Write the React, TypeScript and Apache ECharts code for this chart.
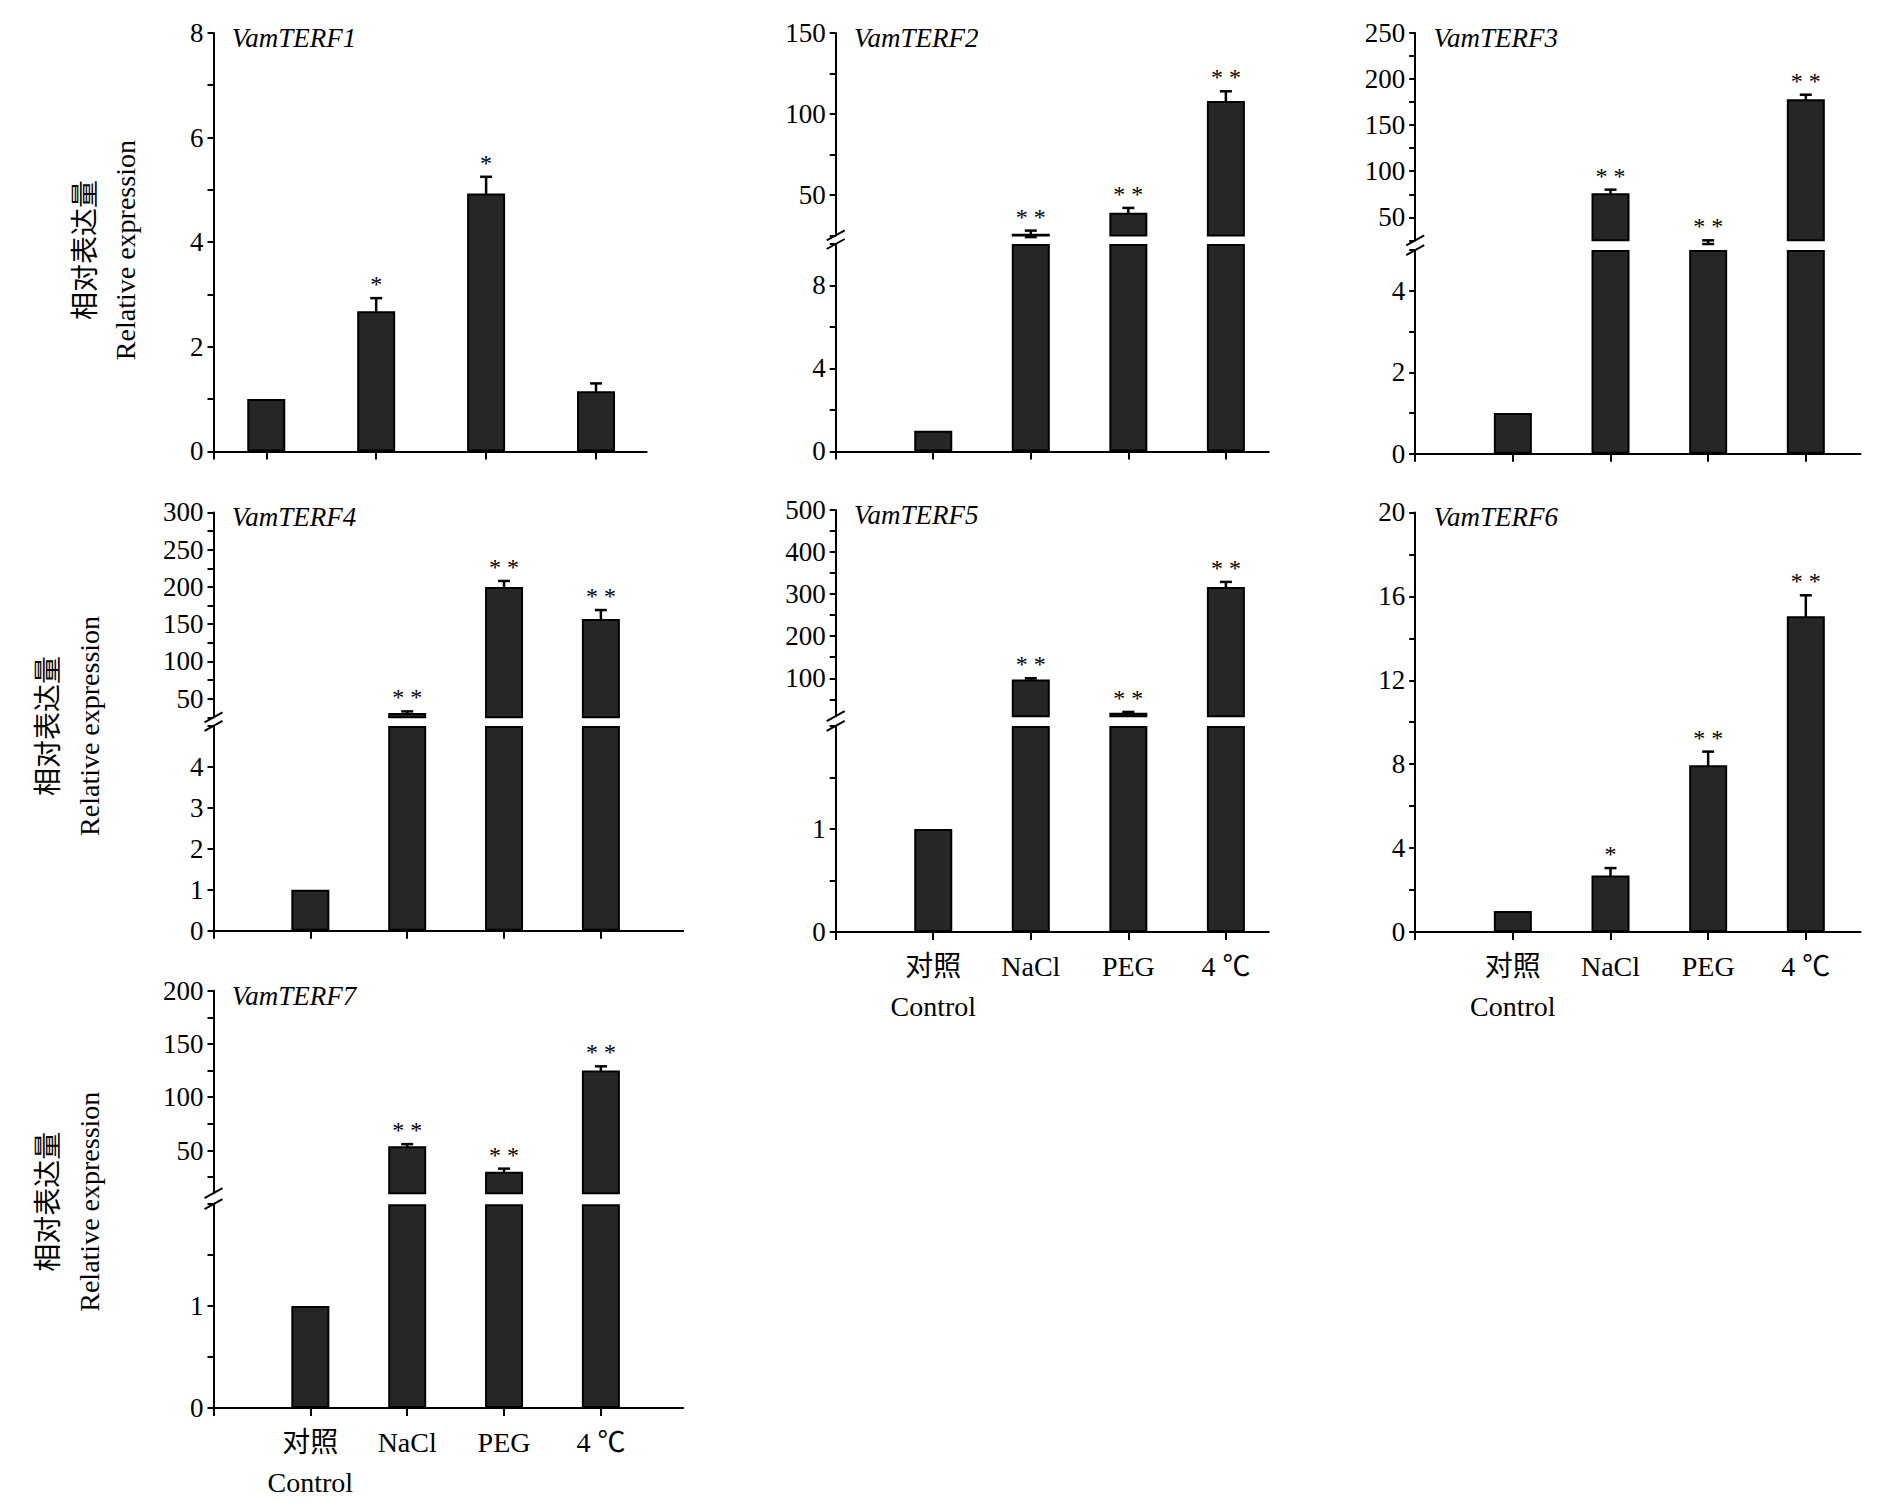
import React, { useEffect, useRef } from 'react'
import * as echarts from 'echarts'

const FONT = '"Liberation Serif", "Noto Sans CJK SC", serif'
const categories = ['对照\nControl', 'NaCl', 'PEG', '4 ℃']

const genes = ['VamTERF1', 'VamTERF2', 'VamTERF3', 'VamTERF4', 'VamTERF5', 'VamTERF6', 'VamTERF7']
const values = [
  [1, 2.68, 4.93, 1.15],
  [1, 26, 39, 108],
  [1, 76, 23, 178],
  [1, 31, 200, 157],
  [1, 97, 18, 317],
  [1, 2.7, 7.95, 15.05],
  [1, 54, 30, 125],
]
const errors = [
  [0, 0.25, 0.32, 0.15],
  [0, 2, 3, 6],
  [0, 4, 2, 5],
  [0, 2, 8, 12],
  [0, 3, 2, 12],
  [0, 0.35, 0.65, 1.0],
  [0, 2, 3, 4],
]
const stars = [
  ['', '*', '*', ''],
  ['', '**', '**', '**'],
  ['', '**', '**', '**'],
  ['', '**', '**', '**'],
  ['', '**', '**', '**'],
  ['', '*', '**', '**'],
  ['', '**', '**', '**'],
]
// lower segment: [max, tick step, label values]
const lowerAxis: [number, number, number[]][] = [
  [8, 1, [0, 2, 4, 6, 8]],
  [10, 2, [0, 4, 8]],
  [5, 1, [0, 2, 4]],
  [5, 1, [0, 1, 2, 3, 4]],
  [2, 0.5, [0, 1]],
  [20, 2, [0, 4, 8, 12, 16, 20]],
  [2, 0.5, [0, 1]],
]
// upper segment (null = no break): [min, max, tick step, label values]
const upperAxis: ([number, number, number, number[]] | null)[] = [
  null,
  [25, 150, 25, [50, 100, 150]],
  [25, 250, 25, [50, 100, 150, 200, 250]],
  [25, 300, 25, [50, 100, 150, 200, 250, 300]],
  [10, 500, 50, [100, 200, 300, 400, 500]],
  null,
  [10, 200, 25, [50, 100, 150, 200]],
]

// layout (px)
const S = 1.22
const layout = [
  { l: 175, r: 530, t: 27, b: 370, gap: null, xr: [0.52, 4.46], xl: false },
  { l: 685, r: 1040, t: 27, b: 370, gap: [193, 200], xr: [0, 4.44], xl: false },
  { l: 1160, r: 1525, t: 27, b: 372, gap: [197, 205], xr: [0, 4.56], xl: false },
  { l: 175, r: 560, t: 420, b: 763, gap: [588, 595], xr: [0, 4.85], xl: false },
  { l: 685, r: 1040, t: 418, b: 764, gap: [587, 595], xr: [0, 4.44], xl: true },
  { l: 1160, r: 1525, t: 420, b: 764, gap: null, xr: [0, 4.56], xl: true },
  { l: 175, r: 560, t: 812, b: 1155, gap: [978, 987], xr: [0, 4.85], xl: true },
]
const yTitles = [
  { x: 70, y: 205 },
  { x: 40, y: 595 },
  { x: 40, y: 985 },
]

function range(min: number, max: number, step: number) {
  const out: number[] = []
  for (let v = min; v <= max + 1e-9; v += step) out.push(+v.toFixed(4))
  return out
}

export default function App() {
  const ref = useRef<HTMLDivElement>(null)

  useEffect(() => {
    if (!ref.current) return
    const chart = echarts.init(ref.current, null, { renderer: 'svg' })
    const grid: any[] = []
    const xAxis: any[] = []
    const yAxis: any[] = []
    const series: any[] = []
    const graphic: any[] = []

    const addGrid = (left: number, right: number, top: number, bottom: number, xr: number[], showX: boolean, showXLine: boolean,
      ymin: number, ymax: number, ticks: number[], labels: number[]) => {
      const i = grid.length
      grid.push({ left: left * S, top: top * S, width: (right - left) * S, height: (bottom - top) * S })
      xAxis.push({
        type: 'value', gridIndex: i, min: xr[0], max: xr[1], show: showXLine,
        axisLine: { show: true, lineStyle: { color: '#000', width: 2 } },
        axisTick: { show: true, inside: false, length: 8, lineStyle: { color: '#000', width: 2 }, customValues: [xr[0], 1, 2, 3, 4] },
        axisLabel: {
          show: showX, customValues: [1, 2, 3, 4], margin: 14,
          formatter: (v: number) => categories[Math.round(v) - 1] || '',
          fontFamily: FONT, fontSize: 28, color: '#000', lineHeight: 40,
        },
        splitLine: { show: false },
      })
      yAxis.push({
        type: 'value', gridIndex: i, min: ymin, max: ymax,
        axisLine: { show: true, lineStyle: { color: '#000', width: 2 } },
        axisTick: { show: true, length: 6, lineStyle: { color: '#000', width: 2 }, customValues: ticks },
        axisLabel: {
          customValues: labels, fontFamily: FONT, fontSize: 27, color: '#000', margin: 10,
        },
        splitLine: { show: false },
      })
      return i
    }

    layout.forEach((p, k) => {
      const [lmax, lstep, llabels] = lowerAxis[k]
      const up = upperAxis[k]
      const lowerTop = p.gap ? p.gap[1] : p.t
      const lo = addGrid(p.l, p.r, lowerTop, p.b, p.xr, p.xl, true, 0, lmax, range(0, lmax, lstep), llabels)
      let hi = -1
      if (up && p.gap) {
        hi = addGrid(p.l, p.r, p.t, p.gap[0], p.xr, false, false, up[0], up[1], range(up[0] - (up[0] % up[2]) + (up[0] % up[2] ? up[2] : 0), up[1], up[2]), up[3])
        // break marks
        const ax = p.l * S
        for (const yy of [p.gap[0] * S, p.gap[1] * S]) {
          graphic.push({ type: 'line', shape: { x1: ax - 9, y1: yy + 5, x2: ax + 9, y2: yy - 5 }, style: { stroke: '#000', lineWidth: 2 } })
        }
      }
      const grids = hi >= 0 ? [lo, hi] : [lo]
      grids.forEach(g => {
        series.push({
          type: 'bar', xAxisIndex: g, yAxisIndex: g, barWidth: 38, clip: true,
          data: values[k].map((v, i) => {
            if (g === hi && v < (up as any)[0]) return [i + 1, null]
            return [i + 1, g === lo ? Math.min(v, lmax) : v]
          }),
          itemStyle: { color: '#262626', borderColor: '#000', borderWidth: 2 },
          silent: true,
        })
      })
      // error bars + stars
      const items = values[k].map((v, i) => [i + 1, v, errors[k][i], i])
      const lowItems = items.filter(d => hi < 0 || (d[1] as number) <= lmax)
      const highItems = items.filter(d => hi >= 0 && (d[1] as number) > lmax)
      const mk = (g: number, data: any[]) => ({
        type: 'custom', xAxisIndex: g, yAxisIndex: g, data, silent: true, clip: false,
        renderItem: (_p: any, api: any) => {
          const x = api.value(0), v = api.value(1), e = api.value(2), idx = api.value(3)
          const top = api.coord([x, v + e])
          const bot = api.coord([x, v - e])
          const children: any[] = []
          if (e > 0) {
            const st = { stroke: '#000', lineWidth: 2.5 }
            children.push({ type: 'line', shape: { x1: top[0], y1: top[1], x2: bot[0], y2: bot[1] }, style: st })
            children.push({ type: 'line', shape: { x1: top[0] - 6, y1: top[1], x2: top[0] + 6, y2: top[1] }, style: st })
            children.push({ type: 'line', shape: { x1: bot[0] - 6, y1: bot[1], x2: bot[0] + 6, y2: bot[1] }, style: st })
          }
          const s = stars[k][idx]
          if (s) {
            children.push({
              type: 'text', x: top[0], y: top[1] - 2,
              style: { text: s.split('').join(' '), fontFamily: FONT, fontSize: 24, fill: '#000', align: 'center', verticalAlign: 'bottom' },
            })
          }
          return { type: 'group', children }
        },
      })
      if (lowItems.length) series.push(mk(lo, lowItems))
      if (highItems.length) series.push(mk(hi, highItems))
      graphic.push({
        type: 'text', left: (p.l + 15) * S, top: (p.t - 7) * S,
        style: { text: genes[k], fontFamily: FONT, fontStyle: 'italic', fontSize: 27, fill: '#000' },
      })
    })

    yTitles.forEach(t => {
      graphic.push({
        type: 'text', x: t.x * S, y: t.y * S, rotation: Math.PI / 2,
        style: { text: '相对表达量', fontFamily: FONT, fontSize: 28, fill: '#000', align: 'center', verticalAlign: 'middle' },
      })
      graphic.push({
        type: 'text', x: (t.x + 33) * S, y: t.y * S, rotation: Math.PI / 2,
        style: { text: 'Relative expression', fontFamily: FONT, fontSize: 28, fill: '#000', align: 'center', verticalAlign: 'middle' },
      })
    })

    chart.setOption({ animation: false, backgroundColor: '#fff', grid, xAxis, yAxis, series, graphic })
    return () => chart.dispose()
  }, [])

  return <div ref={ref} style={{ position: 'absolute', left: 0, top: 0, width: 1890, height: 1502 }} />
}
